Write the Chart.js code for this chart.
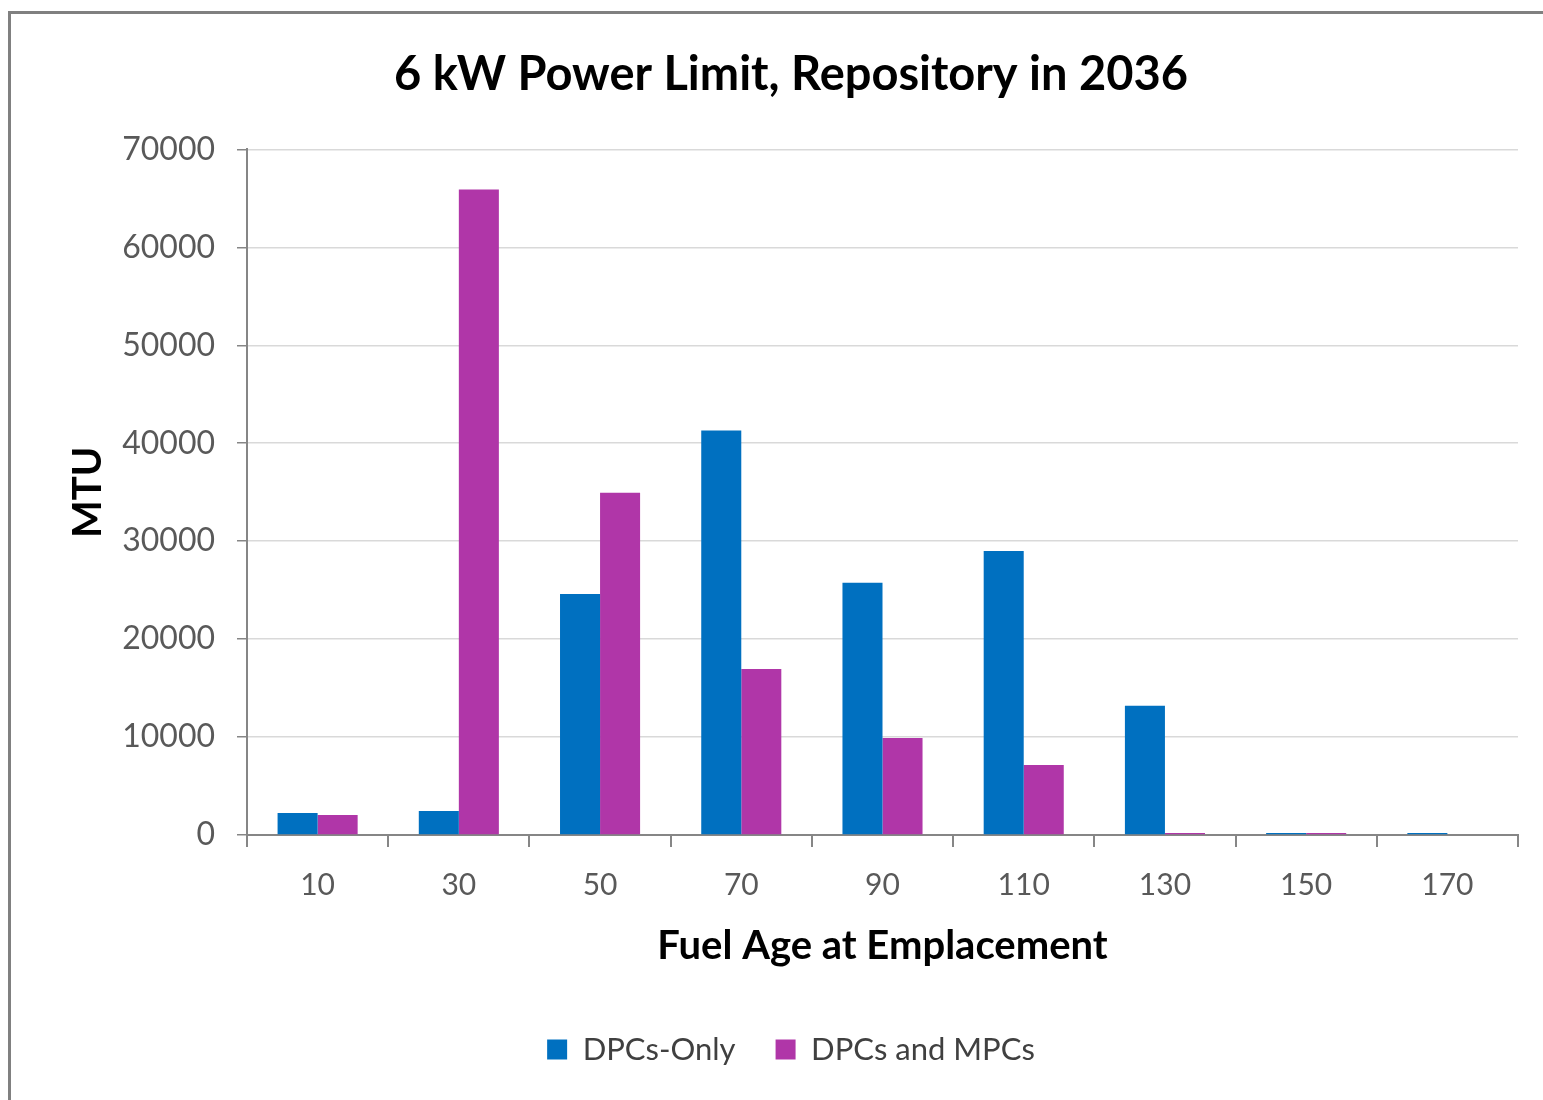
<!DOCTYPE html>
<html>
<head>
<meta charset="utf-8">
<script src="https://cdn.jsdelivr.net/npm/chart.js@4/dist/chart.umd.min.js"></script>
<style>
  html, body { margin: 0; padding: 0; background: #fff; width: 1543px; height: 1100px; overflow: hidden; }
  #frame { position: absolute; left: 8px; top: 11px; width: 1700px; height: 1300px; border: 3px solid #808080; box-sizing: border-box; }
  #c { position: absolute; left: 0; top: 0; }
</style>
</head>
<body>
<div id="frame"></div>
<canvas id="c" width="1543" height="1100"></canvas>
<script>
const categories = ["10", "30", "50", "70", "90", "110", "130", "150", "170"];
const dpcsOnly = [2250, 2450, 24600, 41300, 25750, 29000, 13200, 200, 200];
const dpcsAndMpcs = [2050, 65900, 34950, 16950, 9900, 7150, 200, 200, 0];
const seriesNames = ["DPCs-Only", "DPCs and MPCs"];
const titleText = "6 kW Power Limit, Repository in 2036";
const xTitle = "Fuel Age at Emplacement";
const yTitle = "MTU";

const FONT = "Lato, 'Open Sans', sans-serif";
const PAD_BOTTOM = 25;

new Chart(document.getElementById('c'), {
  type: 'bar',
  data: {
    labels: categories,
    datasets: [
      { label: seriesNames[0], data: dpcsOnly, backgroundColor: '#0070C0', borderWidth: 0 },
      { label: seriesNames[1], data: dpcsAndMpcs, backgroundColor: '#B036A8', borderWidth: 0 }
    ]
  },
  options: {
    responsive: false,
    animation: false,
    layout: { padding: { left: 64, right: 25, top: 0, bottom: PAD_BOTTOM } },
    datasets: { bar: { categoryPercentage: 0.567, barPercentage: 1.0 } },
    plugins: {
      title: {
        display: true, text: titleText, color: '#000',
        font: { family: FONT, size: 47, weight: 'bold' },
        padding: { top: 47, bottom: 46 }
      },
      legend: {
        position: 'bottom',
        labels: {
          color: '#404040', boxWidth: 20, boxHeight: 20, padding: 40,
          font: { family: FONT, size: 31 }
        }
      },
      tooltip: { enabled: false }
    },
    scales: {
      x: {
        grid: { display: true, drawOnChartArea: false, drawTicks: true, tickLength: 12, color: '#868686', lineWidth: 2, offset: true },
        border: { display: true, color: '#868686', width: 2 },
        ticks: { color: '#595959', font: { family: FONT, size: 30 }, padding: 20, maxRotation: 0 },
        title: { display: true, text: xTitle, color: '#000', font: { family: FONT, size: 40, weight: 'bold' }, padding: { top: 20, bottom: 24 } },
        afterFit(scale) {
          const lh = scale.chart.legend ? scale.chart.legend.height : 60;
          scale.height = 1100 - 835 - lh - PAD_BOTTOM;
        }
      },
      y: {
        min: 0, max: 70000,
        grid: { color: '#D9D9D9', lineWidth: 1.5, tickLength: 10, tickColor: '#868686' },
        border: { display: true, color: '#868686', width: 2 },
        ticks: { stepSize: 10000, color: '#595959', font: { family: FONT, size: 32 }, padding: 22,
                 callback: (v) => String(v) },
        title: { display: true, text: yTitle, color: '#000', font: { family: FONT, size: 40, weight: 'bold' }, padding: 0 },
        afterFit(scale) { scale.width = 183; }
      }
    }
  }
});
</script>
</body>
</html>
